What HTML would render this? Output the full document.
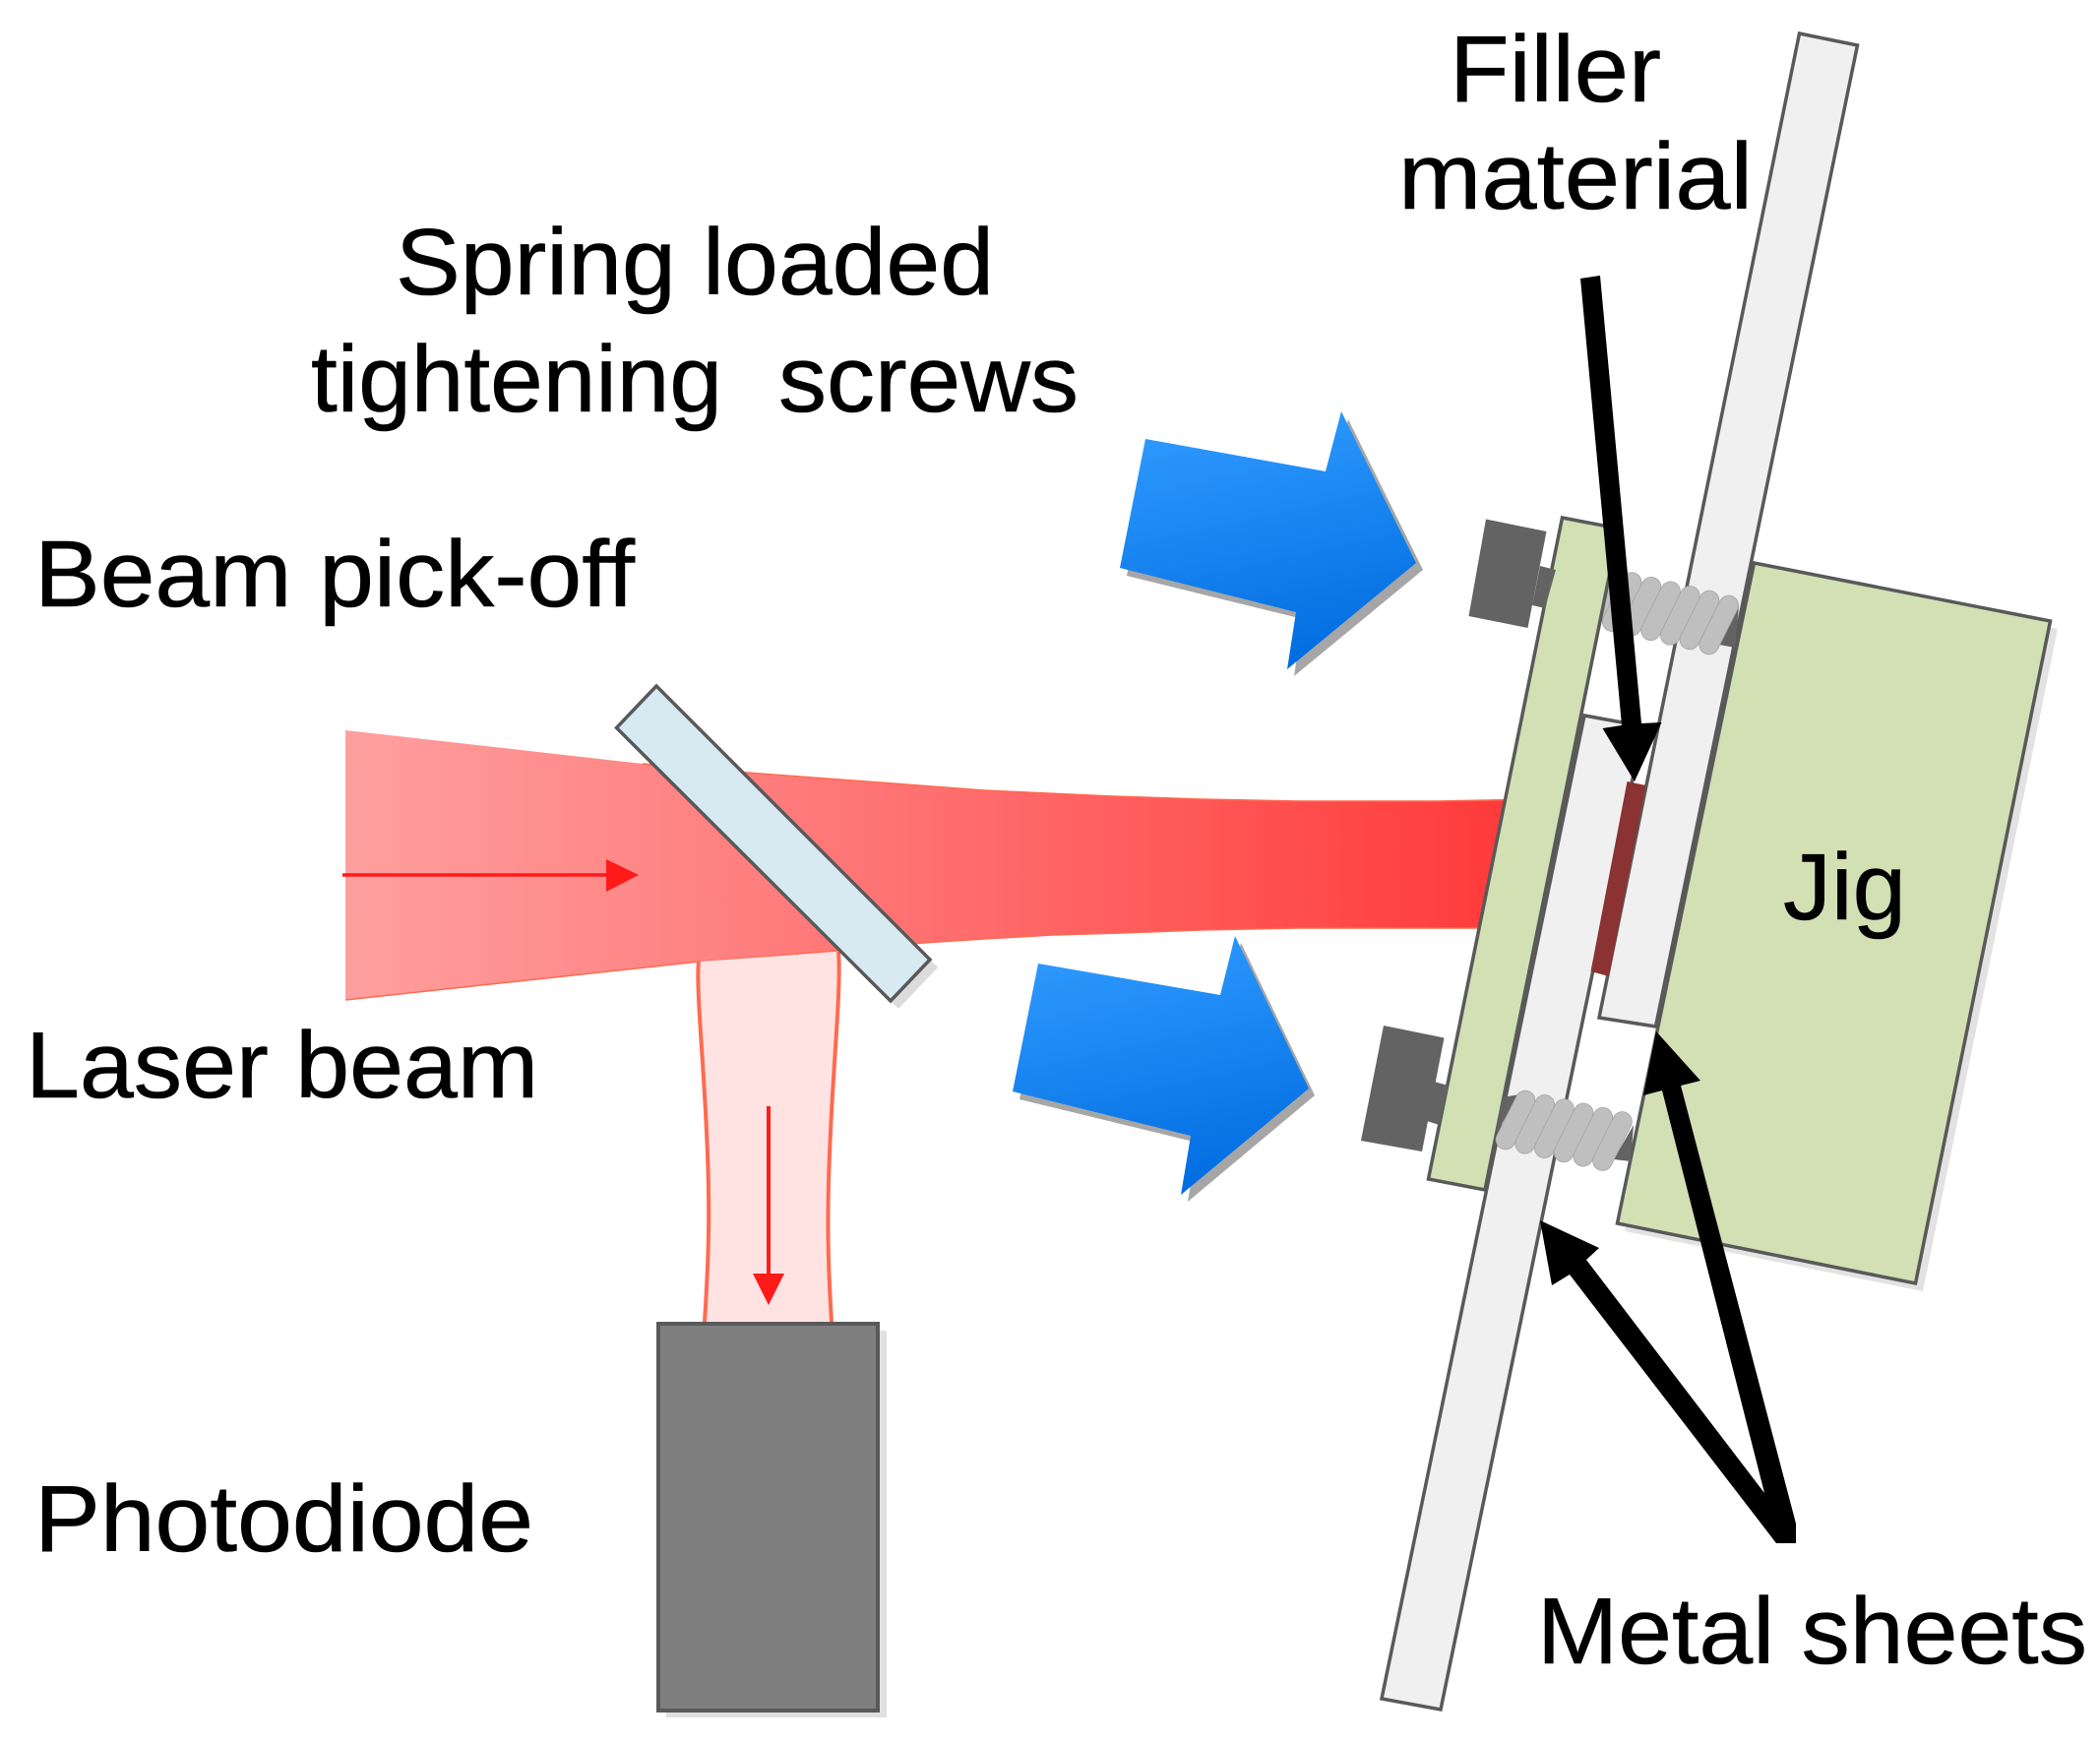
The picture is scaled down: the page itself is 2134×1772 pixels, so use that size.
<!DOCTYPE html>
<html>
<head>
<meta charset="utf-8">
<style>
html,body{margin:0;padding:0;background:#fff}
svg{display:block}
text{font-family:"Liberation Sans",sans-serif;font-size:96px;fill:#000;stroke:#000;stroke-width:0.6px}
</style>
</head>
<body>
<svg width="2134" height="1772" viewBox="0 0 2134 1772" xmlns="http://www.w3.org/2000/svg">
<defs>
<linearGradient id="beam" gradientUnits="userSpaceOnUse" x1="351" y1="0" x2="1530" y2="0">
<stop offset="0" stop-color="#ff9f9f"/>
<stop offset="0.5" stop-color="#ff7070"/>
<stop offset="1" stop-color="#ff3a3a"/>
</linearGradient>
<linearGradient id="blue" x1="0.3" y1="0" x2="0.55" y2="1">
<stop offset="0" stop-color="#2f9bff"/>
<stop offset="1" stop-color="#006ce0"/>
</linearGradient>
<g id="cap">
<path d="M0,0 L-20,40" fill="none" stroke="#a2a2a2" stroke-width="20.5" stroke-linecap="round"/>
<path d="M0,0 L-20,40" fill="none" stroke="#bfbfbf" stroke-width="19" stroke-linecap="round"/>
</g>
</defs>

<rect width="2134" height="1772" fill="#fff"/>

<!-- laser beam -->
<path d="M351,742 L653,776 L759,785 L880,794 L1000,803 L1130,809 L1220,812 L1320,814 L1460,814 L1560,812 L1560,943 L1450,943 L1320,943 L1220,945 L1140,948 L1070,950 L1000,954 L938,958 L851,966 L711,977 L351,1016 Z" fill="url(#beam)"/>
<path d="M653,776 L759,785 L880,794 L1000,803 L1130,809 L1220,812 L1320,814 L1460,814 L1560,812 M1560,943 L1450,943 L1320,943 L1220,945 L1140,948 L1070,950 L1000,954 L938,958 L851,966 L711,977 L351,1016" fill="none" stroke="#ff6a50" stroke-width="1.5"/>

<!-- reflected beam -->
<path d="M710,977 C707,1000 715,1080 718,1150 C722,1230 720,1280 716,1343 L845,1343 C841,1280 840,1230 844,1150 C847,1080 855,1000 852,967 Z" fill="#ffe3e3"/>
<path d="M710,977 C707,1000 715,1080 718,1150 C722,1230 720,1280 716,1343 M845,1343 C841,1280 840,1230 844,1150 C847,1080 855,1000 852,967" fill="none" stroke="#ff6a50" stroke-width="4"/>

<!-- red arrows -->
<path d="M348,889 H620" stroke="#ff1a1a" stroke-width="3.5" fill="none"/>
<path d="M616,873 L649,889 L616,906 Z" fill="#ff1a1a"/>
<path d="M781,1124 V1298" stroke="#ff1a1a" stroke-width="4" fill="none"/>
<path d="M765,1294 H797 L781,1326 Z" fill="#ff1a1a"/>

<!-- pick-off mirror -->
<path d="M675,705 L953,983 L913,1025 L634,747 Z" fill="#dcdcdc"/>
<path d="M667,697 L945,975 L905,1017 L626.5,739.5 Z" fill="#d7eaf2" stroke="#595959" stroke-width="3.5" stroke-linejoin="miter"/>

<!-- photodiode -->
<rect x="677" y="1352" width="224" height="393" fill="#e0e0e0"/>
<rect x="669" y="1345" width="223" height="393" fill="#7f7f7f" stroke="#595959" stroke-width="4"/>

<!-- jig -->
<path d="M1790,580 L2091,639 L1954,1312 L1651,1251 Z" fill="#e2e2e2"/>
<path d="M1782.5,572 L2083.5,631 L1946.5,1304 L1643.5,1243 Z" fill="#d2e0b4" stroke="#595959" stroke-width="3.5"/>

<!-- right metal sheet -->
<path d="M1828.5,34 L1887.5,46 L1682.5,1043 L1625,1034 Z" fill="#f0f0f0" stroke="#595959" stroke-width="3.5"/>

<!-- thread 1 (sits behind the front plate) -->
<path d="M1767,616 L1747,655 L1763,658 Z" fill="#636363"/>
<use href="#cap" x="1638.5" y="587"/>
<use href="#cap" x="1658.2" y="591.6"/>
<use href="#cap" x="1677.9" y="596.2"/>
<use href="#cap" x="1697.6" y="600.8"/>
<use href="#cap" x="1717.3" y="605.4"/>
<use href="#cap" x="1737" y="610"/>
<use href="#cap" x="1756.7" y="615"/>

<!-- front plate -->
<path d="M1587.5,526 L1645,537 L1509,1209 L1451.5,1198 Z" fill="#d2e0b4" stroke="#595959" stroke-width="3.5"/>

<!-- left metal sheet -->
<path d="M1610,727 L1670,738 L1464,1737 L1404,1726 Z" fill="#f0f0f0" stroke="#595959" stroke-width="3.5"/>

<!-- filler -->
<path d="M1653.5,794 L1672.5,798 L1635,992 L1616.5,987 Z" fill="#8b3232"/>

<!-- screw heads -->
<path d="M1565,575 L1581,579 L1570,618 L1557,615 Z" fill="#636363"/>
<path d="M1510,527.5 L1571.5,540 L1552.5,638 L1492.5,626 Z" fill="#636363"/>
<path d="M1457.5,1099 L1472,1103 L1462.5,1143 L1450,1139 Z" fill="#636363"/>
<path d="M1406,1042 L1467.5,1054.5 L1445,1170 L1383,1159 Z" fill="#636363"/>

<!-- thread 2 -->
<path d="M1527,1115 L1544,1112 L1520,1152 Z" fill="#636363"/>
<path d="M1660,1143 L1640,1178 L1657,1180 Z" fill="#636363"/>
<use href="#cap" x="1550" y="1118"/>
<use href="#cap" x="1569.7" y="1122.3"/>
<use href="#cap" x="1589.4" y="1126.6"/>
<use href="#cap" x="1609.1" y="1130.9"/>
<use href="#cap" x="1628.8" y="1135.2"/>
<use href="#cap" x="1648.5" y="1139.5"/>

<!-- blue arrows -->
<path d="M1171,454 L1354,486 L1370,426 L1446,579 L1315,687 L1324,629 L1145,585 Z" fill="#a6a6a6"/>
<path d="M1164,446 L1347,479 L1363,418 L1439,572 L1308,680 L1317,622 L1138,577 Z" fill="url(#blue)"/>
<path d="M1062,987 L1247,1018 L1261,958 L1336,1113 L1207,1221 L1217,1161 L1036,1117 Z" fill="#a6a6a6"/>
<path d="M1055,979 L1240,1011 L1255,951 L1330,1106 L1200,1214 L1210,1154 L1029,1109 Z" fill="url(#blue)"/>

<!-- black arrows -->
<path d="M1606,283 L1626,280 L1668,735 L1688.5,734 L1661,794 L1628.5,740 L1648,737 Z" fill="#000"/>
<path d="M1805,1568 L1825,1568 L1825,1548 L1708,1103 L1728,1098 L1683,1048 L1670,1113 L1689,1108 L1793,1517 L1612,1280 L1625,1268 L1565,1240 L1577,1306 L1595,1295 Z" fill="#000"/>

<!-- labels -->
<text x="1473" y="103" textLength="215" lengthAdjust="spacingAndGlyphs">Filler</text>
<text x="1421" y="212" textLength="360" lengthAdjust="spacingAndGlyphs">material</text>
<text x="402" y="299" textLength="608" lengthAdjust="spacingAndGlyphs">Spring loaded</text>
<text y="418"><tspan x="316" textLength="418" lengthAdjust="spacingAndGlyphs">tightening</tspan> <tspan x="791" textLength="305" lengthAdjust="spacingAndGlyphs">screws</tspan></text>
<text x="35" y="616" textLength="610" lengthAdjust="spacingAndGlyphs">Beam pick-off</text>
<text x="26" y="1115" textLength="521" lengthAdjust="spacingAndGlyphs">Laser beam</text>
<text x="35" y="1576" textLength="507" lengthAdjust="spacingAndGlyphs">Photodiode</text>
<text x="1562" y="1690" textLength="559" lengthAdjust="spacingAndGlyphs">Metal sheets</text>
<text x="1812" y="934" textLength="125" lengthAdjust="spacingAndGlyphs">Jig</text>
</svg>
</body>
</html>
